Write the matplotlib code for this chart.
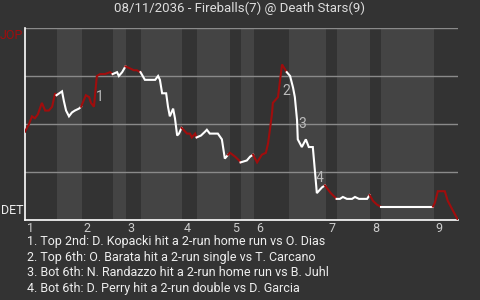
import matplotlib
matplotlib.use("Agg")
import matplotlib.pyplot as plt
import matplotlib.transforms as mtransforms
import numpy as np

# game progress (plays) and win probability for JOP (%)
play = [0.0, 1.1, 1.9, 2.7, 3.5, 4.6, 5.5, 6.5, 7.4, 8.2, 8.6,
        10.1, 10.6, 11.2, 12.0, 12.8, 13.6, 14.7, 15.3,
        16.6, 17.5, 18.0, 18.8, 19.6, 20.5, 21.8, 23.2, 23.9,
        25.1, 25.6, 26.5, 27.4,
        28.6, 29.7, 30.5, 31.4, 31.5,
        32.7, 34.1, 35.5, 36.3, 36.8, 37.4, 38.5, 39.0, 39.5, 40.4, 40.9, 41.5, 42.0, 42.7,
        44.2, 45.0, 45.5, 46.4, 46.8,
        48.0, 49.1, 49.6, 50.4, 51.8, 52.6, 53.7, 54.5, 55.4,
        55.9, 57.3, 58.4, 58.8,
        60.5, 61.4, 62.2,
        63.3, 64.6, 65.7, 66.3, 66.8, 67.4, 67.6, 69.0, 70.1, 71.4,
        72.3, 73.1, 73.6, 74.2, 74.4, 75.5, 76.6, 77.4, 78.5, 79.1, 79.6, 81.0, 81.8,
        82.6, 83.4, 85.0,
        85.9, 86.7, 87.8, 89.2, 90.0, 91.1, 92.2, 93.3, 94.0,
        94.9, 96.0, 97.0,
        97.9, 98.7, 99.5, 100.4, 101.4, 110.4, 111.3,
        111.8, 112.6, 114.5, 115.3, 116.4, 118.1]
wp = [46, 50, 54, 53, 55, 61, 57, 57, 59, 66, 65,
      67, 62, 57, 54, 56, 57, 58, 59,
      65, 64, 61, 59, 75, 76, 76, 77, 76,
      77, 75, 77, 80,
      79, 78, 78, 77, 77,
      73, 73, 73, 75, 73, 66, 66, 59, 54, 58, 53, 44, 45, 48,
      45, 45, 43, 45, 43,
      44, 46, 47, 45, 45, 45, 42, 32, 34,
      35, 33, 31, 30,
      31, 33, 34,
      30, 34, 35, 40, 47, 56, 61, 64, 81, 77,
      75, 69, 64, 52, 42, 38, 42, 38, 38, 25, 14, 17, 18,
      16, 14, 11,
      11, 12, 11, 11, 12, 11, 11, 11, 13,
      10, 8, 7,
      7, 7, 7, 7, 7, 7, 7,
      9, 15, 15, 10, 6, 0]

# start of each half inning, and end of game
half_starts = [0, 8.7, 15.5, 24.0, 27.5, 31.6, 42.8, 46.9, 55.9, 58.9,
               62.5, 72.0, 82.1, 85.1, 94.1, 97.1, 111.5]
game_end = 118.1
innings = ["1", "2", "3", "4", "5", "6", "7", "8", "9"]

notes = [(19.2, "1"), (70.2, "2"), (74.6, "3"), (79.3, "4")]
note_y = [64, 67, 50, 22]
footer = [
    "1. Top 2nd: D. Kopacki hit a 2-run home run vs O. Dias",
    "2. Top 6th: O. Barata hit a 2-run single vs T. Carcano",
    "3. Bot 6th: N. Randazzo hit a 2-run home run vs B. Juhl",
    "4. Bot 6th: D. Perry hit a 2-run double vs D. Garcia",
]

BG = "#333333"
BAND = "#444444"
RED = "#a00d0d"
plt.rcParams['font.family'] = ['Roboto', 'DejaVu Sans']

fig = plt.figure(figsize=(4.8, 3.0), dpi=100, facecolor=BG)
ax = fig.add_axes([25 / 480, 80 / 300, 433 / 480, 192 / 300])
ax.set_facecolor(BG)

# bottom halves get a lighter band
edges = half_starts + [game_end]
for i in range(len(half_starts)):
    if i % 2 == 1:
        ax.axvspan(edges[i], edges[i + 1], color=BAND, lw=0, zorder=0)

for g in [25, 50, 75, 100]:
    ax.axhline(g, color="#8a8a8a", lw=1, zorder=1)

# line pieces coloured by which team is batting
x = np.array(play)
y = np.array(wp)
half = np.searchsorted(half_starts, x, side="right") - 1
for h in range(len(half_starts)):
    idx = np.where(half == h)[0]
    if len(idx) == 0:
        continue
    if idx[0] > 0:
        idx = np.concatenate([[idx[0] - 1], idx])
    col = RED if h % 2 == 0 else "white"
    ax.plot(x[idx], y[idx], color=col, lw=1.5, zorder=3, solid_joinstyle="miter")

for (nx, lab), ny in zip(notes, note_y):
    ax.text(nx, ny, lab, color="#bbbbbb", fontsize=10, ha="left", va="center", zorder=4)

ax.set_xlim(0, game_end)
ax.set_ylim(0, 100)
ax.set_xticks([])
ax.set_yticks([])
for s in ["top", "right"]:
    ax.spines[s].set_visible(False)
for s in ["left", "bottom"]:
    ax.spines[s].set_color("white")
    ax.spines[s].set_linewidth(1.2)

off = mtransforms.offset_copy(ax.get_xaxis_transform(), fig=fig, x=2, y=-1.5, units="dots")
for i, lab in enumerate(innings):
    ax.text(half_starts[2 * i], 0, lab, transform=off, color="#cccccc",
            fontsize=9, ha="left", va="top")

ax.text(-0.004, 0.995, "JOP", transform=ax.transAxes, color=RED, fontsize=9,
        ha="right", va="top")
ax.text(-0.004, 0.015, "DET", transform=ax.transAxes, color="#eeeeee", fontsize=9,
        ha="right", va="bottom")

fig.text(0.5, 0.972, "08/11/2036 - Fireballs(7) @ Death Stars(9)", color="#dddddd",
         fontsize=9.5, ha="center", va="center")

for i, line in enumerate(footer):
    fig.text(27 / 480, 1 - (242 + i * 15.5) / 300, line, color="#eeeeee",
             fontsize=9, ha="left", va="center")

fig.savefig("out.png", dpi=100, facecolor=BG)
